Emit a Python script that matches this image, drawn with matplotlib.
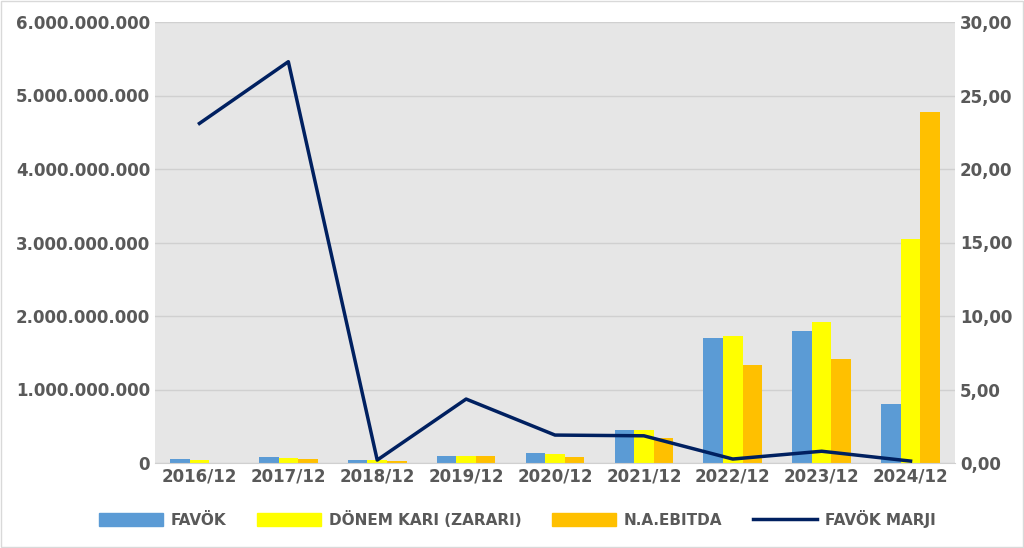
import numpy as np
import matplotlib.pyplot as plt
from matplotlib.ticker import FuncFormatter
from matplotlib.lines import Line2D
from matplotlib.patches import Patch, Rectangle

years = ['2016/12', '2017/12', '2018/12', '2019/12', '2020/12', '2021/12', '2022/12', '2023/12', '2024/12']
favok = [55e6, 80e6, 37e6, 95e6, 140e6, 450e6, 1.70e9, 1.80e9, 0.80e9]
donem_kari = [37e6, 70e6, 37e6, 95e6, 118e6, 455e6, 1.73e9, 1.92e9, 3.05e9]
na_ebitda = [0, 57e6, 25e6, 95e6, 80e6, 340e6, 1.33e9, 1.41e9, 4.78e9]
favok_marji = [23.1, 27.3, 0.2, 4.35, 1.9, 1.85, 0.27, 0.8, 0.13]

c_blue = '#5b9bd5'
c_yellow = '#ffff00'
c_orange = '#ffc000'
c_line = '#002060'

fig = plt.figure(figsize=(10.24, 5.48), dpi=100)
fig.patches.append(Rectangle((0.001, 0.002), 0.998, 0.996, transform=fig.transFigure,
                             fill=False, edgecolor='#d9d9d9', lw=1))
ax = fig.add_axes([155 / 1024, 1 - 463 / 548, 800 / 1024, 441 / 548])
ax.set_facecolor('#e6e6e6')
x = np.arange(len(years))
w = 0.22
ax.bar(x - w, favok, w, color=c_blue, zorder=2)
ax.bar(x, donem_kari, w, color=c_yellow, zorder=2)
ax.bar(x + w, na_ebitda, w, color=c_orange, zorder=2)
ax.set_ylim(0, 6e9)
ax.set_yticks(np.arange(0, 6.01e9, 1e9))
ax.yaxis.set_major_formatter(FuncFormatter(lambda v, p: f'{v:,.0f}'.replace(',', '.')))
ax.grid(axis='y', color='#d0d0d0', lw=1, zorder=0)
ax.set_xlim(-0.5, len(years) - 0.5)
ax.set_xticks(x)
ax.set_xticklabels(years)
for s in ax.spines.values():
    s.set_visible(False)
ax.spines['bottom'].set_visible(True)
ax.spines['bottom'].set_color('#d0d0d0')
ax.tick_params(length=0, labelsize=12, colors='#595959')
for t in ax.get_xticklabels() + ax.get_yticklabels():
    t.set_fontweight('bold')

ax2 = ax.twinx()
ax2.plot(x, favok_marji, color=c_line, lw=2.5, zorder=3)
ax2.set_ylim(0, 30)
ax2.set_yticks(np.arange(0, 30.1, 5))
ax2.yaxis.set_major_formatter(FuncFormatter(lambda v, p: f'{v:.2f}'.replace('.', ',')))
for s in ax2.spines.values():
    s.set_visible(False)
ax2.tick_params(length=0, labelsize=12, colors='#595959')
for t in ax2.get_yticklabels():
    t.set_fontweight('bold')

handles = [Patch(color=c_blue), Patch(color=c_yellow), Patch(color=c_orange),
           Line2D([0], [0], color=c_line, lw=2.5)]
labels = ['FAVÖK', 'DÖNEM KARI (ZARARI)', 'N.A.EBITDA', 'FAVÖK MARJI']
leg = fig.legend(handles, labels, loc='center', bbox_to_anchor=(0.505, 1 - 519 / 548), ncol=4,
                 frameon=False, fontsize=11, handlelength=4.2, handleheight=0.9,
                 columnspacing=2.0, handletextpad=0.5)
for t in leg.get_texts():
    t.set_color('#595959')
    t.set_fontweight('bold')

fig.savefig('out.png')
